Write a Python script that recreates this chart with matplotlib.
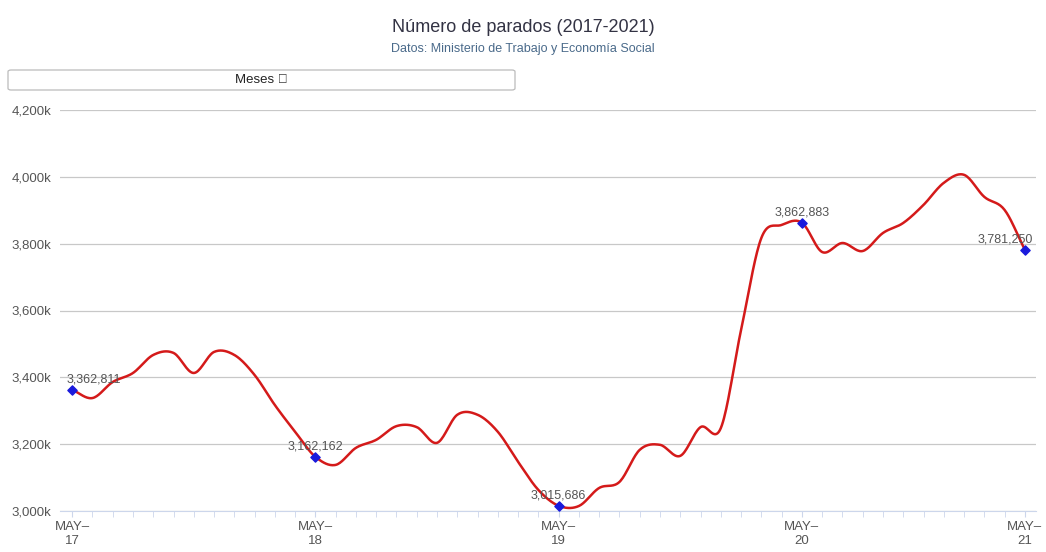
import numpy as np
import matplotlib
matplotlib.use("Agg")
import matplotlib.pyplot as plt
from matplotlib.patches import FancyBboxPatch

plt.rcParams["font.family"] = "Liberation Sans"

values = [3362.811, 3338, 3386, 3413, 3467, 3473, 3413, 3476, 3467, 3407, 3317, 3237,
          3162.162, 3138, 3189, 3213, 3254, 3251, 3204, 3288, 3288, 3237, 3147, 3063,
          3015.686, 3015, 3069, 3087, 3183, 3198, 3165, 3251, 3248, 3542, 3817, 3856,
          3862.883, 3775, 3802, 3778, 3832, 3862, 3916, 3982, 4006, 3940, 3901, 3781.250]
labeled_idx = [0, 12, 24, 36, 47]
labeled_text = ["3,362,811", "3,162,162", "3,015,686", "3,862,883", "3,781,250"]
label_ha = ["left", "center", "center", "center", "right"]
xtick_idx = [0, 12, 24, 36, 47]
xtick_labels = ["MAY–\n17", "MAY–\n18", "MAY–\n19", "MAY–\n20", "MAY–\n21"]
yticks = [3000, 3200, 3400, 3600, 3800, 4000, 4200]

fig = plt.figure(figsize=(10.46, 5.52), dpi=100)
ax = fig.add_axes([60/1046, 1-511/552, 976/1046, 401/552])

x = np.arange(len(values), dtype=float)
y = np.array(values)
m = np.gradient(y, x)
xs, ys = [], []
for i in range(len(x)-1):
    t = np.linspace(0, 1, 20)
    h00 = 2*t**3-3*t**2+1; h10 = t**3-2*t**2+t; h01 = -2*t**3+3*t**2; h11 = t**3-t**2
    xs.extend(x[i]+t); ys.extend(h00*y[i]+h10*m[i]+h01*y[i+1]+h11*m[i+1])
ax.plot(xs, ys, color="#d41a1a", lw=1.8, zorder=3)
ax.scatter([x[i] for i in labeled_idx], [y[i] for i in labeled_idx], marker="D", s=22,
           color="#1a1adc", zorder=4)
for i, t, ha in zip(labeled_idx, labeled_text, label_ha):
    dx = {"left": -0.3, "center": 0, "right": 0.4}[ha]
    ax.text(x[i]+dx, y[i]+12, t, ha=ha, va="bottom", fontsize=9, color="#555555", zorder=5)

ax.set_xlim(-0.6, 47.55)
ax.set_ylim(3000, 4200)
ax.set_yticks(yticks)
ax.set_yticklabels([f"{v:,}k" for v in yticks], fontsize=9.5, color="#555555")
ax.set_xticks(xtick_idx)
ax.set_xticklabels(xtick_labels, fontsize=9.5, color="#555555")
ax.set_xticks(np.arange(48), minor=True)
ax.tick_params(axis="y", length=0, pad=6)
ax.tick_params(axis="x", which="both", length=4, color="#ccd6eb")
ax.grid(axis="y", color="#c8c8c8", lw=0.9)
ax.set_axisbelow(True)
for s in ["top", "right", "left"]:
    ax.spines[s].set_visible(False)
ax.spines["bottom"].set_color("#ccd6eb")

fig.text(0.5, 1-27/552, "Número de parados (2017-2021)", ha="center", va="center",
         fontsize=13, color="#333344")
fig.text(0.5, 1-49/552, "Datos: Ministerio de Trabajo y Economía Social", ha="center", va="center",
         fontsize=9, color="#4a6a8a")
box = FancyBboxPatch((8/1046, 1-90/552), 507/1046, 20/552, boxstyle="round,pad=0,rounding_size=0.003",
                     transform=fig.transFigure, facecolor="white", edgecolor="#bbbbbb", lw=0.9)
fig.patches.append(box)
fig.text(261/1046, 1-80/552, "Meses ▾", ha="center", va="center", fontsize=9.5, color="#222222")

fig.savefig("out.png", dpi=100)
